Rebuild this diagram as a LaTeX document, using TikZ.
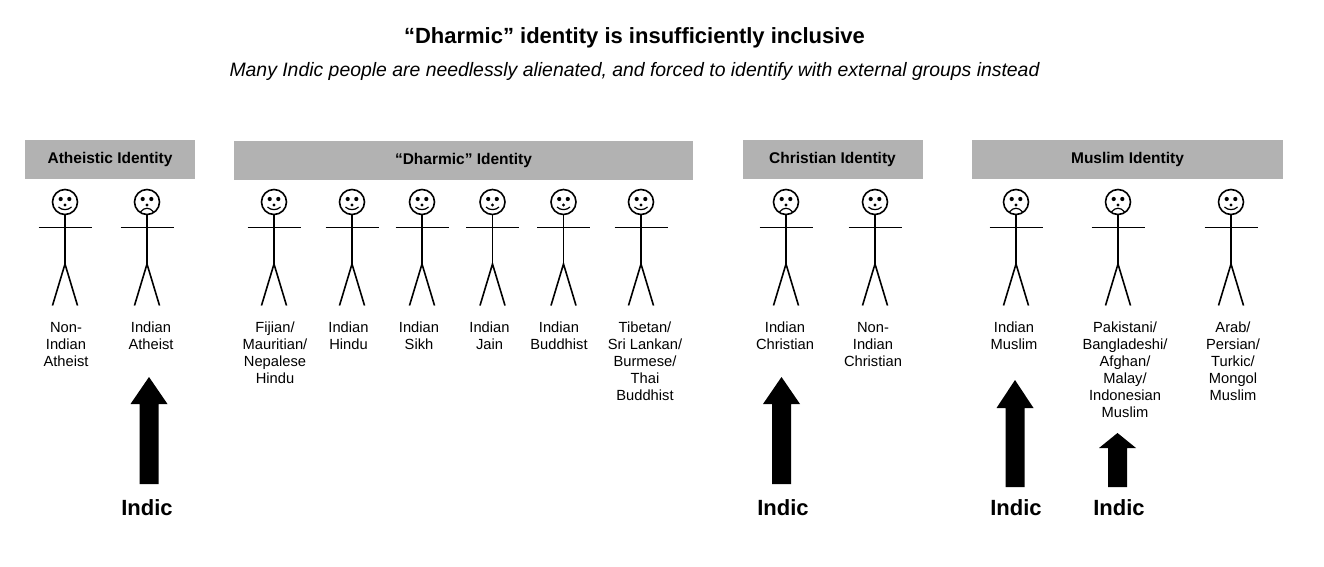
\documentclass[tikz,border=0pt]{standalone}
\usepackage{fontspec}
\setmainfont{Liberation Sans}
\tikzset{
  hdr/.style={fill=hdrgray,draw=none,anchor=center,inner sep=0pt,font=\fontsize{15.5}{18}\selectfont\bfseries},
  who/.style={anchor=north,align=center,inner sep=0pt,font=\fontsize{14.7}{17}\selectfont},
  indic/.style={anchor=center,inner sep=0pt,font=\fontsize{22}{26}\selectfont\bfseries},
  limb/.style={draw=black,line width=1.6pt},
  upar/.style={fill=black,draw=none},
}
\definecolor{hdrgray}{HTML}{B2B2B2}
% #1 x of figure
\newcommand{\happy}[1]{%
  \begin{scope}[xshift=#1pt]
  \draw[limb] (0,202) circle (12.5);
  \fill (-4.3,199) circle (2.1) (4.3,199) circle (2.1) (0,205) circle (1.6);
  \draw[line width=1.2pt] (-6.5,207) .. controls (-3,210.5) and (3,210.5) .. (6.5,207);
  \figurebody
  \end{scope}}
\newcommand{\sad}[1]{%
  \begin{scope}[xshift=#1pt]
  \draw[limb] (0,202) circle (12.5);
  \fill (-4.3,199) circle (2.1) (4.3,199) circle (2.1) (0,205) circle (1.6);
  \draw[line width=1.2pt] (-6.5,212) .. controls (-3,207) and (3,207) .. (6.5,212);
  \figurebody
  \end{scope}}
\newcommand{\figurebody}{%
  \draw[limb] (0,214.5) -- (0,264);
  \draw[limb] (-26.5,227.5) -- (26.5,227.5);
  \draw[limb] (-12.5,305.5) -- (0,264) -- (12.5,305.5);}
% #1 centre x, #2 tip y, #3 head base y, #4 base y
\newcommand{\uparr}[4]{%
  \fill[upar] (#1,#2) -- (#1+18.5,#3) -- (#1+9.5,#3) -- (#1+9.5,#4) -- (#1-9.5,#4) -- (#1-9.5,#3) -- (#1-18.5,#3) -- cycle;}
\begin{document}
\begin{tikzpicture}[x=1pt,y=-1pt]
\useasboundingbox (0,0) rectangle (1324,567);
\node[anchor=center,inner sep=0pt,font=\fontsize{22}{26}\selectfont\bfseries] (title) at (634.5,37.5) {“Dharmic” identity is insufficiently inclusive};
\node[anchor=center,inner sep=0pt,font=\fontsize{19.4}{23}\selectfont\itshape] (sub) at (634.5,71.5) {Many Indic people are needlessly alienated, and forced to identify with external groups instead};
\node[hdr,minimum width=170,minimum height=39] (h1) at (110,159.5) {Atheistic Identity};
\node[hdr,minimum width=459,minimum height=39] (h2) at (463.5,160.5) {“Dharmic” Identity};
\node[hdr,minimum width=180,minimum height=39] (h3) at (832.5,159.5) {Christian Identity};
\node[hdr,minimum width=311,minimum height=39] (h4) at (1127.5,159.5) {Muslim Identity};
\happy{65}\sad{147}\happy{274}\happy{352}\happy{422}\happy{492.5}\happy{563.5}\happy{641}
\sad{786}\happy{875}\sad{1016}\sad{1118}\happy{1231}
\node[who] (l1) at (66,322) {Non-\\Indian\\Atheist};
\node[who] (l2) at (151,322) {Indian\\Atheist};
\node[who] (l3) at (275,322) {Fijian/\\Mauritian/\\Nepalese\\Hindu};
\node[who] (l4) at (348.5,322) {Indian\\Hindu};
\node[who] (l5) at (419,322) {Indian\\Sikh};
\node[who] (l6) at (489.5,322) {Indian\\Jain};
\node[who] (l7) at (559,322) {Indian\\Buddhist};
\node[who] (l8) at (645,322) {Tibetan/\\Sri Lankan/\\Burmese/\\Thai\\Buddhist};
\node[who] (l9) at (785,322) {Indian\\Christian};
\node[who] (l10) at (873,322) {Non-\\Indian\\Christian};
\node[who] (l11) at (1014,322) {Indian\\Muslim};
\node[who] (l12) at (1125,322) {Pakistani/\\Bangladeshi/\\Afghan/\\Malay/\\Indonesian\\Muslim};
\node[who] (l13) at (1233,322) {Arab/\\Persian/\\Turkic/\\Mongol\\Muslim};
\uparr{149}{377}{404}{484}
\uparr{781.5}{377}{404}{484}
\uparr{1015}{380}{408}{487}
\uparr{1117.5}{433}{448}{487}
\node[indic] (i1) at (147,507.5) {Indic};
\node[indic] (i2) at (783,507.5) {Indic};
\node[indic] (i3) at (1016,507.5) {Indic};
\node[indic] (i4) at (1119,507.5) {Indic};
\end{tikzpicture}
\end{document}
